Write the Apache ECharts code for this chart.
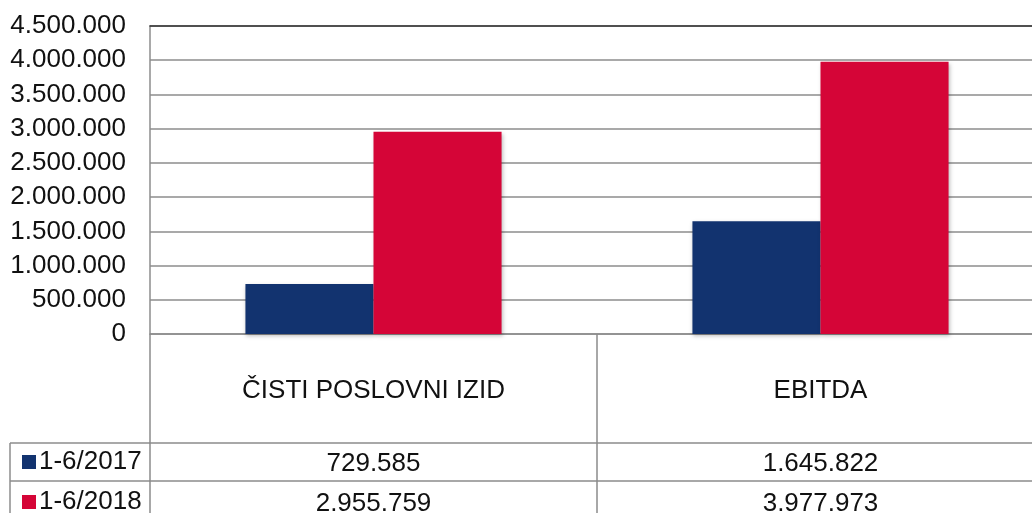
<!DOCTYPE html>
<html>
<head>
<meta charset="utf-8">
<script src="https://cdn.jsdelivr.net/npm/echarts@6/dist/echarts.min.js"></script>
<style>
html,body{margin:0;padding:0;background:#fff;}
#chart{width:1032px;height:513px;}
</style>
</head>
<body>
<div id="chart"></div>
<script>
const categories = ['ČISTI POSLOVNI IZID', 'EBITDA'];
const seriesNames = ['1-6/2017', '1-6/2018'];
const values2017 = [729585, 1645822];
const values2018 = [2955759, 3977973];
const yTicks = { min: 0, max: 4500000, interval: 500000 };

const colors = ['#12336F', '#D50537'];
const gridColor = '#8c8c8c';
const font = 'Liberation Sans, Arial, sans-serif';

function fmt(v) {
  return String(Math.round(v)).replace(/\B(?=(\d{3})+(?!\d))/g, '.');
}

const chart = echarts.init(document.getElementById('chart'), null, { renderer: 'canvas' });

const rowAxis = (vals, offset, margin) => ({
  type: 'category',
  data: categories,
  position: 'bottom',
  offset: offset,
  axisLine: { show: true, lineStyle: { color: gridColor, width: 1.5 } },
  axisTick: { show: false },
  axisLabel: {
    interval: 0,
    margin: margin,
    verticalAlign: 'middle',
    fontFamily: font, fontSize: 26, color: '#111',
    formatter: (v, i) => fmt(vals[i])
  }
});

const legendItem = (name, top) => ({
  left: 17, top: top,
  itemWidth: 14, itemHeight: 14,
  icon: 'rect',
  textStyle: { fontFamily: font, fontSize: 26, color: '#111', padding: [0, 0, 0, -2] },
  data: [name]
});

chart.setOption({
  animation: false,
  color: colors,
  grid: { left: 150, top: 26, right: -12, height: 308, containLabel: false, outerBoundsMode: 'none' },
  legend: [
    legendItem(seriesNames[0], 444),
    legendItem(seriesNames[1], 484)
  ],
  xAxis: [
    {
      type: 'category',
      data: categories,
      position: 'bottom',
      axisLine: { show: true, lineStyle: { color: gridColor, width: 1.5 } },
      axisTick: { show: true, length: 180, interval: 0, lineStyle: { color: gridColor, width: 1.5 } },
      axisLabel: {
        interval: 0, margin: 57, verticalAlign: 'middle',
        fontFamily: font, fontSize: 26, color: '#111'
      }
    },
    rowAxis(values2017, 109, 21),
    rowAxis(values2018, 147, 23),
    {
      type: 'category',
      data: categories,
      position: 'top',
      axisLine: { show: true, lineStyle: { color: '#333', width: 1.5 } },
      axisTick: { show: false },
      axisLabel: { show: false }
    }
  ],
  yAxis: {
    type: 'value',
    min: yTicks.min, max: yTicks.max, interval: yTicks.interval,
    axisLine: { show: true, lineStyle: { color: gridColor, width: 1.5 } },
    axisTick: { show: false },
    splitLine: { show: true, lineStyle: { color: gridColor, width: 1.5 } },
    axisLabel: {
      margin: 24,
      fontFamily: font, fontSize: 26, color: '#111',
      formatter: v => fmt(v)
    }
  },
  series: [
    {
      name: seriesNames[0], type: 'bar', data: values2017,
      barGap: '0%', barCategoryGap: '42.7%',
      itemStyle: { color: colors[0], shadowBlur: 4, shadowColor: 'rgba(0,0,0,0.25)', shadowOffsetX: 1, shadowOffsetY: 2 }
    },
    {
      name: seriesNames[1], type: 'bar', data: values2018,
      barGap: '0%', barCategoryGap: '42.7%',
      itemStyle: { color: colors[1], shadowBlur: 4, shadowColor: 'rgba(0,0,0,0.25)', shadowOffsetX: 1, shadowOffsetY: 2 }
    }
  ],
  graphic: [
    { type: 'line', shape: { x1: 10, y1: 443, x2: 150, y2: 443 }, style: { stroke: gridColor, lineWidth: 1.5 } },
    { type: 'line', shape: { x1: 10, y1: 481, x2: 150, y2: 481 }, style: { stroke: gridColor, lineWidth: 1.5 } },
    { type: 'line', shape: { x1: 10, y1: 443, x2: 10, y2: 513 }, style: { stroke: gridColor, lineWidth: 1.5 } }
  ]
});
</script>
</body>
</html>
